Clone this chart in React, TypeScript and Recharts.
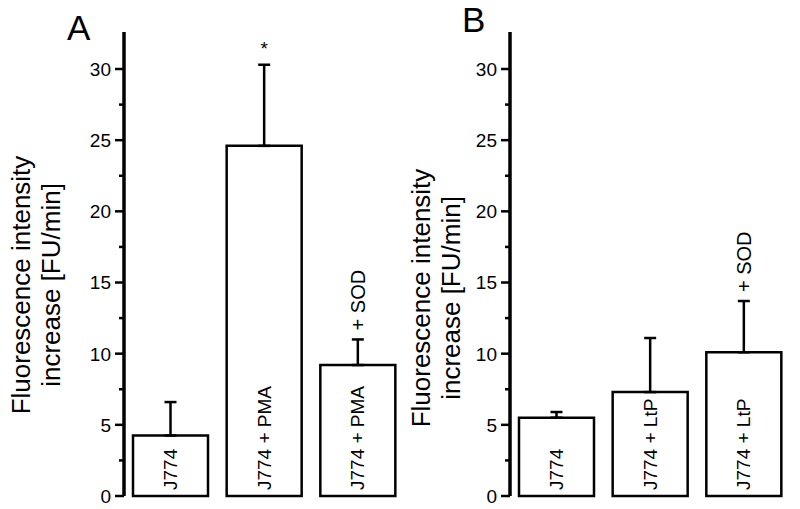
import React from "react";
import { BarChart, Bar, XAxis, YAxis, ErrorBar, LabelList } from "recharts";

const FONT = '"Liberation Sans", Arial, Helvetica, sans-serif';

// y axis: major ticks every 5 (labelled), minor every 2.5
const yTicks = [0, 2.5, 5, 7.5, 10, 12.5, 15, 17.5, 20, 22.5, 25, 27.5, 30];
const yMax = 32.6;

// panel A
const catsA = ["J774", "J774 + PMA", "J774 + PMA"];
const aboveA = ["", "*", "+ SOD"];
const meanA = [4.25, 24.6, 9.2];
const errA = [2.35, 5.7, 1.8];

// panel B
const catsB = ["J774", "J774 + LtP", "J774 + LtP"];
const aboveB = ["", "", "+ SOD"];
const meanB = [5.5, 7.3, 10.1];
const errB = [0.4, 3.8, 3.6];

const YTick = (props: any) => {
  const { x, y, payload } = props;
  const major = payload.value % 5 === 0;
  return (
    <g>
      <line x1={x} x2={x - (major ? 9 : 5)} y1={y} y2={y} stroke="#000" strokeWidth={2.5} />
      {major && (
        <text x={x - 13} y={y} dy="0.36em" textAnchor="end" fontSize={19} fontFamily={FONT} fill="#000">
          {payload.value}
        </text>
      )}
    </g>
  );
};

const boxOf = (props: any) =>
  props.viewBox && props.viewBox.width != null ? props.viewBox : props;

const renderInside = (props: any) => {
  const vb = boxOf(props);
  const cx = Number(vb.x) + Number(vb.width) / 2;
  const by = Number(vb.y) + Number(vb.height) - 6;
  return (
    <text
      x={cx}
      y={by}
      transform={`rotate(-90 ${cx} ${by})`}
      dominantBaseline="central"
      fontSize={19}
      fontFamily={FONT}
      fill="#000"
    >
      {props.value}
    </text>
  );
};

const makeAbove = (means: number[], errs: number[]) => (props: any) => {
  const { index, value } = props;
  if (!value) return null;
  const vb = boxOf(props);
  const perUnit = Number(vb.height) / means[index];
  const cx = Number(vb.x) + Number(vb.width) / 2;
  const top = Number(vb.y) - errs[index] * perUnit;
  if (value === "*") {
    return (
      <text x={cx} y={top - 10} textAnchor="middle" fontSize={19} fontFamily={FONT} fill="#000">
        {value}
      </text>
    );
  }
  const by = top - 9;
  return (
    <text
      x={cx}
      y={by}
      transform={`rotate(-90 ${cx} ${by})`}
      dominantBaseline="central"
      fontSize={20}
      fontFamily={FONT}
      fill="#000"
    >
      {value}
    </text>
  );
};

const PanelLabel = ({ letter, letterX, letterY, labelY }: any) => (
  <g fontFamily={FONT} fill="#000">
    <text x={letterX} y={letterY} fontSize={35}>
      {letter}
    </text>
    <text transform={`translate(0, ${labelY}) rotate(-90)`} textAnchor="middle" fontSize={26}>
      <tspan x={0} y={30}>Fluorescence intensity</tspan>
      <tspan x={0} y={60}>increase [FU/min]</tspan>
    </text>
  </g>
);

function Panel(props: any) {
  const { letter, names, above, means, errs, left, width, axisWidth, labelY, letterX, letterY } = props;
  const data = names.map((name: string, i: number) => ({
    key: `${i}-${name}`,
    name,
    mean: means[i],
    err: [0, errs[i]],
    above: above[i],
  }));

  return (
    <div style={{ position: "absolute", left, top: 0 }}>
      <BarChart
        width={width}
        height={509}
        data={data}
        margin={{ top: 32, right: width - axisWidth - 281, bottom: 13, left: 0 }}
        barSize={75}
      >
        <XAxis
          dataKey="key"
          tick={false}
          tickLine={false}
          height={0}
          axisLine={{ stroke: "#000", strokeWidth: 3.5 }}
        />
        <YAxis
          type="number"
          domain={[0, yMax]}
          ticks={yTicks}
          interval={0}
          width={axisWidth}
          tickSize={0}
          tickMargin={0}
          tickLine={false}
          tick={<YTick />}
          axisLine={{ stroke: "#000", strokeWidth: 3.5 }}
          label={<PanelLabel letter={letter} letterX={letterX} letterY={letterY} labelY={labelY} />}
        />
        <Bar dataKey="mean" fill="#fff" stroke="#000" strokeWidth={2.5} isAnimationActive={false}>
          <ErrorBar dataKey="err" direction="y" width={6} stroke="#000" strokeWidth={2.5} />
          <LabelList dataKey="name" content={renderInside} />
          <LabelList dataKey="above" content={makeAbove(means, errs)} />
        </Bar>
      </BarChart>
    </div>
  );
}

export default function App() {
  return (
    <div style={{ position: "fixed", left: 0, top: 0, width: 800, height: 509, background: "#fff" }}>
      <Panel
        letter="A"
        names={catsA}
        above={aboveA}
        means={meanA}
        errs={errA}
        left={0}
        width={410}
        axisWidth={124}
        labelY={285}
        letterX={67}
        letterY={40}
      />
      <Panel
        letter="B"
        names={catsB}
        above={aboveB}
        means={meanB}
        errs={errB}
        left={400}
        width={400}
        axisWidth={110}
        labelY={298}
        letterX={62}
        letterY={32}
      />
    </div>
  );
}
